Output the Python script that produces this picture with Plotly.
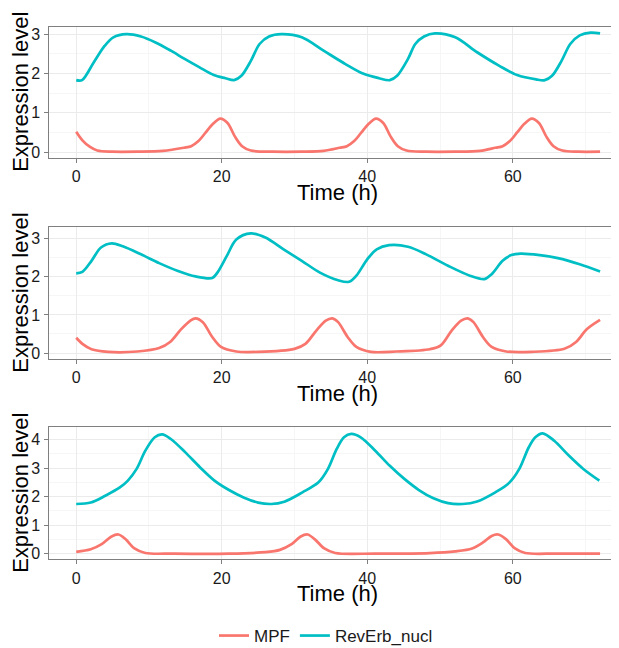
import plotly.graph_objects as go

# ---------------- data ----------------
# Panel 1
p1_rev_t = [0, 0.8, 2.4, 3.9, 5.1, 6.9, 8.9, 10.9, 13, 14.9, 16.9, 18.9, 20.5, 21.7, 22.7, 24, 25.2, 26.5,
            28.2, 31, 34, 37, 39.5, 41.6, 43.1, 44.1, 45.6, 46.6, 47.8, 49.3, 52.1, 55.1, 58.1, 60.6, 63.2,
            64.4, 65.4, 66.7, 67.9, 69.2, 70.7, 72]
p1_rev = [1.83, 1.83, 2.28, 2.70, 2.92, 3.00, 2.94, 2.79, 2.58, 2.37, 2.16, 1.96, 1.88, 1.83, 1.94, 2.32, 2.75,
          2.94, 3.00, 2.92, 2.58, 2.24, 1.99, 1.88, 1.83, 1.94, 2.37, 2.75, 2.94, 3.02, 2.92, 2.54, 2.20, 1.96,
          1.85, 1.83, 1.94, 2.32, 2.75, 2.97, 3.04, 3.02]
p1_mpf_t = [0, 0.85, 1.9, 2.9, 4.9, 8.4, 11.9, 14.8, 15.8, 16.8, 17.8, 18.8, 19.8, 20.8, 21.8, 22.8, 24, 27,
            31, 34, 36.2, 37.2, 38.2, 39.2, 40.2, 41.2, 42.2, 43.2, 44.2, 45.4, 48, 52, 55.5, 57.6, 58.6,
            59.6, 60.6, 61.6, 62.6, 63.6, 64.6, 65.6, 66.8, 69, 72]
p1_mpf = [0.52, 0.30, 0.13, 0.04, 0.01, 0.01, 0.03, 0.11, 0.15, 0.28, 0.50, 0.72, 0.85, 0.74, 0.40, 0.15, 0.04,
          0.01, 0.01, 0.03, 0.11, 0.15, 0.28, 0.50, 0.72, 0.85, 0.74, 0.40, 0.15, 0.04, 0.01, 0.01, 0.03, 0.11,
          0.15, 0.28, 0.50, 0.72, 0.85, 0.74, 0.40, 0.15, 0.04, 0.01, 0.01]

# Panel 2
p2_rev_t = [0, 0.85, 2.1, 3.4, 4.9, 6.4, 8.9, 11.4, 13.9, 16.4, 18.7, 19.4, 20.7, 22, 24, 26, 28.5, 31, 33.5,
            36, 37.5, 38.5, 40, 41.3, 43, 45.6, 48.1, 51.1, 54.1, 56.1, 57.1, 58.6, 59.8, 61.1, 63.7, 66.2,
            69.2, 72]
p2_rev = [2.09, 2.13, 2.42, 2.77, 2.88, 2.80, 2.59, 2.36, 2.16, 2.01, 1.97, 2.11, 2.55, 2.98, 3.14, 3.03, 2.72,
          2.42, 2.11, 1.91, 1.87, 2.03, 2.46, 2.72, 2.83, 2.79, 2.59, 2.29, 2.03, 1.94, 2.07, 2.42, 2.57, 2.61,
          2.57, 2.49, 2.33, 2.14]
p2_mpf_t = [0, 0.85, 2.1, 4.4, 8.4, 11.4, 12.9, 14.4, 15.7, 16.4, 17.4, 18.7, 19.9, 22, 25, 30, 31.5, 33,
            34.3, 35.2, 36, 37.3, 38.5, 40.5, 44, 48.6, 50.1, 51.6, 52.9, 53.8, 54.6, 55.9, 57.1, 59.1, 62.6,
            67.1, 68.7, 70.2, 72]
p2_mpf = [0.40, 0.24, 0.10, 0.03, 0.04, 0.13, 0.29, 0.62, 0.85, 0.91, 0.81, 0.42, 0.16, 0.04, 0.03, 0.11, 0.24,
          0.59, 0.85, 0.91, 0.81, 0.42, 0.16, 0.03, 0.04, 0.10, 0.20, 0.59, 0.85, 0.91, 0.81, 0.42, 0.16, 0.04,
          0.03, 0.11, 0.29, 0.63, 0.87]

# Panel 3
p3_rev_t = [0, 2, 4, 6, 7.1, 8.3, 9.5, 10.8, 11.8, 13, 15, 17, 19, 21, 23, 25, 26.8, 28.6, 31.1, 33.3, 34.6,
            35.8, 36.8, 37.8, 39.1, 41.1, 43.1, 45.1, 47.1, 49.1, 51.1, 53.1, 55.1, 57.6, 59.5, 60.9, 62.2,
            63.1, 64.1, 65.7, 67.7, 69.7, 71.9]
p3_rev = [1.74, 1.79, 2.03, 2.32, 2.56, 2.97, 3.61, 4.08, 4.18, 4.02, 3.55, 3.03, 2.56, 2.23, 1.97, 1.79, 1.74,
          1.82, 2.15, 2.50, 2.97, 3.67, 4.08, 4.20, 4.08, 3.61, 3.08, 2.62, 2.23, 1.94, 1.77, 1.74, 1.83, 2.15,
          2.48, 2.97, 3.73, 4.08, 4.22, 3.96, 3.44, 2.97, 2.56]
p3_mpf_t = [0, 2, 3.5, 4.8, 5.8, 6.8, 8, 9.5, 13.5, 21, 26, 28, 29.6, 30.8, 31.8, 32.8, 34.1, 35.6, 41.1, 48.6,
            52.1, 54.4, 55.9, 57.1, 58, 59.1, 60.3, 61.7, 66, 72]
p3_mpf = [0.06, 0.15, 0.33, 0.59, 0.67, 0.50, 0.18, 0.02, 0.0, 0.0, 0.05, 0.13, 0.33, 0.59, 0.67, 0.50, 0.18,
          0.02, 0.0, 0.02, 0.08, 0.18, 0.39, 0.62, 0.67, 0.50, 0.18, 0.02, 0.0, 0.0]

series_names = ["MPF", "RevErb_nucl"]
colors = ["#F8766D", "#00BFC4"]
x_ticks = [0, 20, 40, 60]
y_ticks_p12 = [0, 1, 2, 3]
y_ticks_p3 = [0, 1, 2, 3, 4]

panels = [
    (p1_mpf_t, p1_mpf, p1_rev_t, p1_rev, [-0.15, 3.19], y_ticks_p12),
    (p2_mpf_t, p2_mpf, p2_rev_t, p2_rev, [-0.157, 3.30], y_ticks_p12),
    (p3_mpf_t, p3_mpf, p3_rev_t, p3_rev, [-0.2, 4.43], y_ticks_p3),
]

# ---------------- layout geometry (page pixels; page body has an 8px margin) ----------------
OFF = 8
W, H = 619 - OFF, 648 - OFF
panel_px = [(26.7, 158.0), (227.3, 359.0), (427.3, 559.3)]  # (top, bottom) in page px
left_px = 49.3
FONT = "Liberation Sans, Arial, Helvetica, sans-serif"


def px_x(p):
    return (p - OFF) / W


def px_y(p):
    return 1 - (p - OFF) / H


fig = go.Figure()
layout = dict(
    width=W, height=H,
    margin=dict(l=0, r=0, t=0, b=0, autoexpand=False),
    paper_bgcolor="white", plot_bgcolor="white",
    font=dict(family=FONT, color="#1a1a1a", size=16),
    showlegend=True,
    legend=dict(orientation="h", x=px_x(326), xanchor="center", y=px_y(636), yanchor="middle",
                font=dict(size=17, color="#1a1a1a"), itemwidth=30, bgcolor="rgba(0,0,0,0)",
                tracegroupgap=0),
    annotations=[],
)

for i, (mt, mv, rt, rv, yr, yt) in enumerate(panels):
    k = "" if i == 0 else str(i + 1)
    top, bot = panel_px[i]
    for j, (tt, vv) in enumerate([(mt, mv), (rt, rv)]):
        fig.add_trace(go.Scatter(
            x=tt, y=vv, mode="lines", name=series_names[j],
            line=dict(color=colors[j], width=2.7, shape="spline", smoothing=0.9),
            xaxis="x" + k, yaxis="y" + k, showlegend=(i == 0), legendgroup=series_names[j],
            hoverinfo="skip",
        ))
    common = dict(showline=True, linecolor="#7f7f7f", linewidth=1, mirror=True,
                  ticks="outside", ticklen=4, tickcolor="#7f7f7f", tickwidth=1,
                  showgrid=True, gridcolor="#EBEBEB", gridwidth=1.3, zeroline=False,
                  automargin=False,
                  tickfont=dict(size=16, color="#1a1a1a", family=FONT))
    layout["xaxis" + k] = dict(
        domain=[px_x(left_px), 1.0], range=[-3.7, 74.6], anchor="y" + k,
        tickvals=x_ticks, ticktext=[str(v) for v in x_ticks],
        minor=dict(dtick=10, tick0=0, showgrid=True, gridcolor="#F6F6F6", gridwidth=1, ticks=""),
        **common)
    layout["yaxis" + k] = dict(
        domain=[px_y(bot), px_y(top)], range=yr, anchor="x" + k,
        tickvals=yt, ticktext=[str(v) for v in yt], ticklabelstandoff=1,
        minor=dict(dtick=0.5, tick0=0, showgrid=True, gridcolor="#F6F6F6", gridwidth=1, ticks=""),
        **common)
    layout["annotations"].append(dict(
        text="Time (h)", xref="paper", yref="paper", x=px_x(337), y=px_y(bot + 34),
        xanchor="center", yanchor="middle", showarrow=False,
        font=dict(size=22, color="#000000", family=FONT)))
    layout["annotations"].append(dict(
        text="Expression level", xref="paper", yref="paper", x=px_x(20.5), y=px_y((top + bot) / 2),
        xanchor="center", yanchor="middle", textangle=-90, showarrow=False,
        font=dict(size=22, color="#000000", family=FONT)))

fig.update_layout(**layout)
fig.write_html("out.html")
